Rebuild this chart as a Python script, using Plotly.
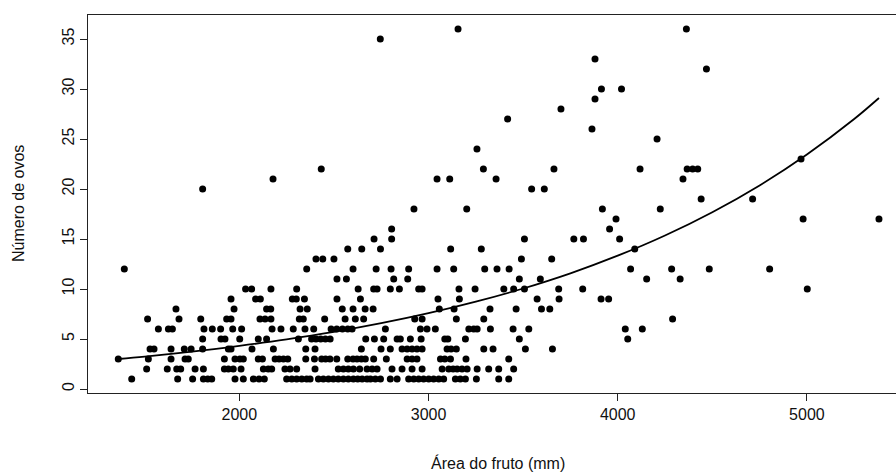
import plotly.graph_objects as go

# Número de ovos (y) grouped with Área do fruto (x)
ovos_levels = [36, 35, 33, 32, 30, 29, 28, 27, 26, 25, 24, 23, 22, 21, 20, 19, 18, 17, 16, 15,
               14, 13, 12, 11, 10, 9, 8, 7, 6, 5, 4, 3, 2, 1]
area_by_level = [
    [3156, 4363],
    [2745],
    [3880],
    [4469],
    [3914, 4020],
    [3880],
    [3700],
    [3418],
    [3864],
    [4208],
    [3256],
    [4969],
    [2433, 3290, 3663, 4118, 4367, 4396, 4423],
    [2178, 3045, 3112, 3357, 4345],
    [1806, 3545, 3612],
    [4441, 4713],
    [2923, 3202, 3919, 4225],
    [3991, 4980, 5381],
    [2805, 3957],
    [2712, 2805, 3507, 3768, 3819, 4010],
    [2573, 2647, 2746, 3117, 3279, 4090],
    [2405, 2441, 2500, 3491, 3651],
    [1392, 2356, 2601, 2723, 2802, 2895, 3045, 3133, 3297, 3362, 3426, 4068, 4285, 4484, 4803],
    [2516, 2566, 2816, 2890, 3480, 3591, 4153, 4330],
    [2033, 2065, 2167, 2303, 2628, 2710, 2728, 2798, 2846, 2948, 2966, 3161, 3246, 3398, 3450,
     3507, 3688, 3815, 5002],
    [1956, 2086, 2111, 2280, 2301, 2344, 2516, 2640, 3050, 3163, 3574, 3690, 3912, 3952],
    [1665, 1972, 2144, 2166, 2321, 2359, 2544, 2601, 2665, 2707, 3057, 3135, 3325, 3463, 3597, 3641],
    [1515, 1681, 1796, 1933, 1956, 2109, 2136, 2167, 2317, 2338, 2451, 2559, 2613, 2657, 2927,
     2966, 3147, 3292, 4290],
    [1572, 1625, 1646, 1813, 1857, 1901, 1965, 2012, 2173, 2220, 2285, 2347, 2393, 2485, 2515,
     2545, 2573, 2596, 2772, 2957, 2992, 3036, 3213, 3239, 3257, 3327, 3447, 3530, 4040, 4130],
    [1806, 1903, 1924, 2002, 2100, 2144, 2312, 2382, 2405, 2430, 2455, 2480, 2668, 2714, 2763,
     2834, 2851, 2904, 2961, 3086, 3102, 3195, 3480, 4053],
    [1528, 1549, 1639, 1709, 1745, 1806, 1942, 1956, 2067, 2180, 2351, 2400, 2645, 2749, 2798,
     2860, 2887, 2913, 2939, 2966, 3098, 3119, 3147, 3292, 3341, 3512, 3655],
    [1360, 1519, 1639, 1713, 1730, 1921, 1977, 2003, 2021, 2100, 2122, 2189, 2210, 2233, 2256,
     2351, 2397, 2435, 2456, 2479, 2515, 2573, 2601, 2622, 2645, 2666, 2710, 2777, 2887, 2913,
     2939, 3063, 3086, 3116, 3198, 3424],
    [1510, 1619, 1669, 1690, 1766, 1810, 1921, 1942, 1968, 2009, 2127, 2153, 2171, 2241, 2268,
     2303, 2400, 2523, 2550, 2576, 2603, 2636, 2675, 2702, 2728, 2807, 2860, 2913, 2966, 3072,
     3107, 3130, 3151, 3177, 3204, 3257, 3318, 3371, 3450],
    [1431, 1674, 1753, 1810, 1833, 1854, 1977, 2021, 2074, 2104, 2132, 2250, 2277, 2303, 2330,
     2356, 2374, 2418, 2444, 2471, 2497, 2523, 2550, 2576, 2603, 2626, 2649, 2675, 2693, 2719,
     2746, 2798, 2834, 2895, 2922, 2948, 2974, 3001, 3027, 3054, 3080, 3142, 3168, 3195, 3253,
     3371, 3424],
]

# fitted curve
curve_area = [1360, 1500, 1750, 2000, 2250, 2500, 2750, 3000, 3250, 3500, 3750, 4000, 4250,
              4500, 4750, 5000, 5250, 5381]
curve_ovos = [3.0, 3.24, 3.73, 4.31, 4.96, 5.71, 6.58, 7.58, 8.73, 10.05, 11.57, 13.33, 15.35,
              17.68, 20.36, 23.45, 27.0, 29.1]

x_ticks = [2000, 3000, 4000, 5000]
y_ticks = [0, 5, 10, 15, 20, 25, 30, 35]
x_title = "Área do fruto (mm)"
y_title = "Número de ovos"

area = []
ovos = []
for lvl, xs in zip(ovos_levels, area_by_level):
    for xv in xs:
        area.append(xv)
        ovos.append(lvl)

FONT = "Liberation Sans, Arial, sans-serif"

fig = go.Figure()
fig.add_trace(go.Scatter(x=area, y=ovos, mode="markers",
                         marker=dict(color="black", size=7, line=dict(width=0)),
                         showlegend=False, hoverinfo="skip"))
fig.add_trace(go.Scatter(x=curve_area, y=curve_ovos, mode="lines",
                         line=dict(color="black", width=1.8, shape="spline"),
                         showlegend=False, hoverinfo="skip"))

fig.update_layout(
    width=896, height=475,
    margin=dict(l=88, r=0, t=15, b=82),
    plot_bgcolor="white", paper_bgcolor="white",
    font=dict(family=FONT, size=16, color="#111"),
    xaxis=dict(range=[1200, 5471], tickvals=x_ticks, ticks="outside", ticklen=7,
               tickcolor="#222", tickwidth=1, showline=True, mirror=True,
               linecolor="#222", linewidth=1, showgrid=False, zeroline=False,
               tickfont=dict(size=16, color="#111")),
    yaxis=dict(range=[-0.4, 37.4], tickvals=y_ticks, ticks="outside", ticklen=7,
               tickcolor="#222", tickwidth=1, showline=True, mirror=False,
               linecolor="#222", linewidth=1, showgrid=False, zeroline=False,
               tickangle=-90, tickfont=dict(size=16, color="#111")),
    annotations=[
        dict(text=x_title, xref="paper", yref="paper", x=0.508, y=-0.185,
             xanchor="center", yanchor="middle", showarrow=False,
             font=dict(size=16, color="#111")),
        dict(text=y_title, xref="paper", yref="paper", x=-0.0866, y=0.5,
             xanchor="center", yanchor="middle", textangle=-90, showarrow=False,
             font=dict(size=16, color="#111")),
    ],
)

fig.write_html("out.html")
